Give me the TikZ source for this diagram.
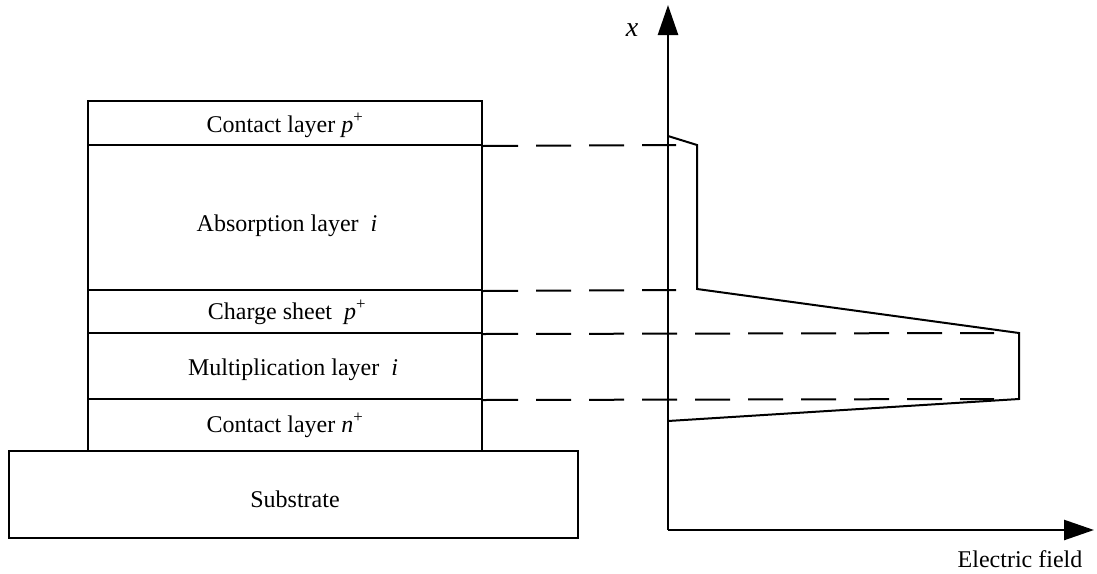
\documentclass[tikz,border=0pt]{standalone}
\usepackage{fontspec}
\setmainfont{Liberation Serif}
\usetikzlibrary{arrows.meta}
\begin{document}
\begin{tikzpicture}[x=1pt,y=-1pt,
  layer/.style={draw,line width=2pt,minimum width=394pt,inner sep=0pt,anchor=center},
  lbl/.style={anchor=base,inner sep=0pt,font=\fontsize{24}{28}\selectfont},
  dl/.style={line width=2pt,dash pattern=on 35pt off 18pt},
  axis/.style={line width=2.5pt,-{Triangle[length=30pt,width=20pt]}},
  prof/.style={line width=2pt,line join=miter}]
\useasboundingbox (0,0) rectangle (1097,573);
% layers
\node[layer,minimum height=44pt] (cp) at (285,123) {};
\node[layer,minimum height=145pt] (ab) at (285,217.5) {};
\node[layer,minimum height=43pt] (cs) at (285,311.5) {};
\node[layer,minimum height=66pt] (ml) at (285,366) {};
\node[layer,minimum height=52pt] (cn) at (285,425) {};
\node[layer,minimum width=569pt,minimum height=87pt] (sub) at (293.5,494.5) {};
% labels
\node[lbl] (tcp) at (285,132) {Contact layer \textit{p}\textsuperscript{+}};
\node[lbl] (tab) at (287,231) {Absorption layer\ \ \textit{i}};
\node[lbl] (tcs) at (287,319) {Charge sheet\ \ \textit{p}\textsuperscript{+}};
\node[lbl] (tml) at (293,375) {Multiplication layer\ \ \textit{i}};
\node[lbl] (tcn) at (285,432) {Contact layer \textit{n}\textsuperscript{+}};
\node[lbl] (tsub) at (295,507) {Substrate};
% axes
\coordinate (o) at (668,530);
\coordinate (ytip) at (668,5);
\coordinate (xtip) at (1094,530);
\draw[axis] (o) -- (ytip);
\draw[axis] (o) -- (xtip);
\node[lbl,font=\fontsize{28}{32}\selectfont] (xl) at (632,36) {\textit{x}};
\node[lbl] (el) at (1020,567) {Electric field};
% dashed lines
\coordinate (d1) at (676,145);
\coordinate (d2) at (676,290);
\coordinate (d3) at (994,333);
\coordinate (d4) at (994,399);
\draw[dl] (cp.south east) -- (d1);
\draw[dl] (ab.south east) -- (d2);
\draw[dl] (cs.south east) -- (d3);
\draw[dl] (ml.south east) -- (d4);
% field profile
\coordinate (p0) at (668,136);
\coordinate (p1) at (697,145);
\coordinate (p2) at (697,289);
\coordinate (p3) at (1019,333);
\coordinate (p4) at (1019,399);
\coordinate (p5) at (668,421);
\draw[prof] (p0) -- (p1) -- (p2) -- (p3) -- (p4) -- (p5);
\end{tikzpicture}
\end{document}
